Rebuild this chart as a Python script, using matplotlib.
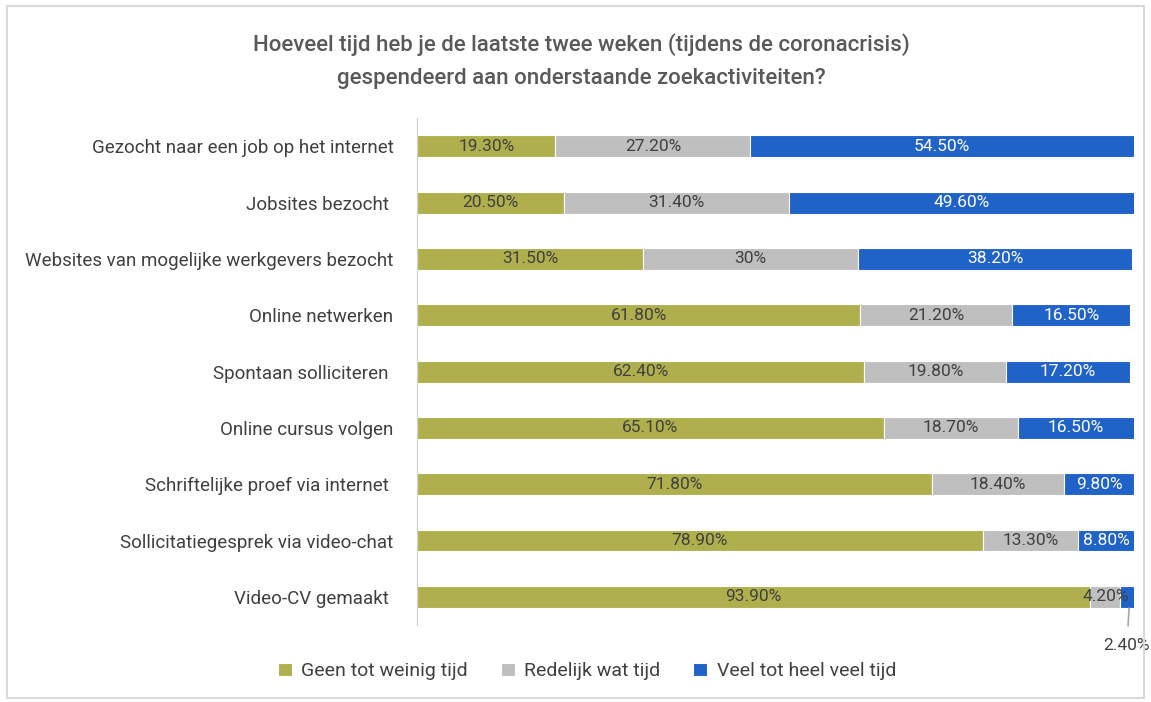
import matplotlib
matplotlib.use('Agg')
import numpy as np
import matplotlib.pyplot as plt
from matplotlib.patches import Rectangle

plt.rcParams['font.family'] = ['Roboto', 'DejaVu Sans']

categories = ["Gezocht naar een job op het internet", "Jobsites bezocht ",
              "Websites van mogelijke werkgevers bezocht", "Online netwerken",
              "Spontaan solliciteren ", "Online cursus volgen",
              "Schriftelijke proef via internet ", "Sollicitatiegesprek via video-chat",
              "Video-CV gemaakt "]
geen = [19.3, 20.5, 31.5, 61.8, 62.4, 65.1, 71.8, 78.9, 93.9]
redelijk = [27.2, 31.4, 30.0, 21.2, 19.8, 18.7, 18.4, 13.3, 4.2]
veel = [54.5, 49.6, 38.2, 16.5, 17.2, 16.5, 9.8, 8.8, 2.4]
series_names = ["Geen tot weinig tijd", "Redelijk wat tijd", "Veel tot heel veel tijd"]
colors = ["#afb04d", "#bfbfbf", "#1f62c8"]

def fmt(v):
    s = "%.2f" % v
    if s.endswith(".00"):
        s = s[:-3]
    return s + "%"

xmax = 100
fig = plt.figure(figsize=(11.51, 7.02), dpi=100)
fig.patches.append(Rectangle((0.006, 0.006), 0.988, 0.986, transform=fig.transFigure,
                             fill=False, edgecolor="#d9d9d9", linewidth=1.5))
ax = fig.add_axes([0.3623, 0.1097, 0.623, 0.722])

y = np.arange(len(categories))
left = np.zeros(len(categories))
txt = "#404040"
for vals, col, name in zip([geen, redelijk, veel], colors, series_names):
    ax.barh(y, vals, left=left, height=0.39, color=col, edgecolor="white",
            linewidth=0.8, label=name)
    for i, v in enumerate(vals):
        c = "white" if col == colors[2] else txt
        if col == colors[2] and v < 3:
            continue
        # centre the label on the visible part of the segment
        xc = (left[i] + min(left[i] + v, xmax)) / 2
        ax.text(xc, y[i], fmt(v), ha="center", va="center",
                fontsize=12.5, color=c)
    left += np.array(vals)

# small segment label placed below the bar with a leader line
i = len(categories) - 1
xs = left[i] - veel[i] / 2
ax.annotate(fmt(veel[i]), xy=(xs, y[i] + 0.2), xytext=(xs - 0.3, y[i] + 0.87),
            ha="center", va="center", fontsize=12.5, color=txt,
            arrowprops=dict(arrowstyle="-", color="#a6a6a6", lw=1.2,
                            shrinkA=7, shrinkB=0),
            annotation_clip=False)

ax.set_xlim(0, xmax)
ax.set_ylim(len(categories) - 0.5, -0.5)
ax.set_yticks(y)
ax.set_yticklabels(categories, fontsize=13.5, color=txt)
ax.set_xticks([])
ax.tick_params(axis="y", length=0, pad=17)
for s in ["top", "right", "bottom"]:
    ax.spines[s].set_visible(False)
ax.spines["left"].set_color("#d0d0d0")

fig.text(0.505, 0.936, "Hoeveel tijd heb je de laatste twee weken (tijdens de coronacrisis)",
         ha="center", va="center", fontsize=16, color="#595959", fontweight="medium")
fig.text(0.505, 0.888, "gespendeerd aan onderstaande zoekactiviteiten?",
         ha="center", va="center", fontsize=16, color="#595959", fontweight="medium")

leg = fig.legend(loc="center", bbox_to_anchor=(0.51, 0.044), ncol=3, frameon=False,
                 fontsize=14, handlelength=0.7, handleheight=0.7, columnspacing=1.7,
                 handletextpad=0.5)
for t in leg.get_texts():
    t.set_color(txt)

fig.savefig("out.png", dpi=100)
